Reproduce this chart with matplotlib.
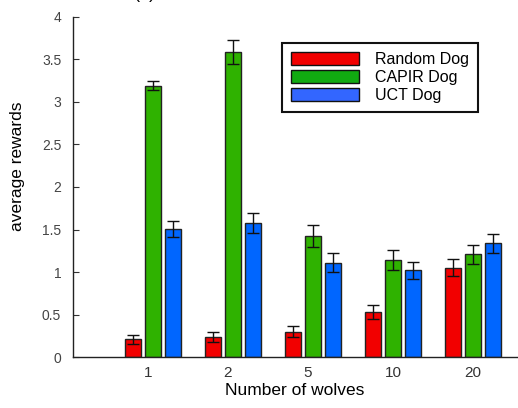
import numpy as np
import matplotlib
matplotlib.use("Agg")
import matplotlib.pyplot as plt
from matplotlib.transforms import ScaledTranslation

plt.rcParams['font.family'] = ['Liberation Sans', 'DejaVu Sans']

# Data
wolves = ["1", "2", "5", "10", "20"]
series = ["Random Dog", "CAPIR Dog", "UCT Dog"]
random_mean = [0.21, 0.24, 0.30, 0.53, 1.05]
random_err = [0.05, 0.06, 0.065, 0.08, 0.10]
capir_mean = [3.19, 3.59, 1.42, 1.14, 1.21]
capir_err = [0.055, 0.14, 0.13, 0.12, 0.11]
uct_mean = [1.51, 1.58, 1.11, 1.02, 1.34]
uct_err = [0.095, 0.12, 0.11, 0.10, 0.11]

colors = ["#F20000", "#2FB200", "#0066FF"]
legend_colors = ["#F20000", "#11AA11", "#3366FF"]

fig = plt.figure(figsize=(5.18, 4.08), dpi=100)
ax = fig.add_axes([73 / 518, 1 - 357.3 / 408, 480 / 518, 340.6 / 408])

x = np.arange(len(wolves))
offsets = [-0.25, 0.0, 0.25]
width = 0.2
means = [random_mean, capir_mean, uct_mean]
errs = [random_err, capir_err, uct_err]

for off, m, e, c in zip(offsets, means, errs, colors):
    ax.bar(x + off, m, width=width, color=c, edgecolor="#222222", linewidth=1.0,
           zorder=2)
    ax.errorbar(x + off, m, yerr=e, fmt="none", ecolor="#111111", elinewidth=1.0,
                capsize=4.3, capthick=1.0, zorder=3)

ax.set_xlim(-1, 5)
ax.set_ylim(0, 4)
ax.set_yticks(np.arange(0, 4.01, 0.5))
ax.set_yticklabels(["0", "0.5", "1", "1.5", "2", "2.5", "3", "3.5", "4"])
ax.set_xticks(x)
ax.set_xticklabels(wolves)

for s in ["top", "right"]:
    ax.spines[s].set_visible(False)
for s in ["left", "bottom"]:
    ax.spines[s].set_linewidth(1.0)
    ax.spines[s].set_color("#222222")

ax.tick_params(axis="y", direction="in", length=4, width=0.8, pad=8.5,
               labelsize=10, labelcolor="#444444", color="#333333")
ax.tick_params(axis="x", length=0, pad=6, labelsize=11, labelcolor="#333333")

# nudge the single-digit labels slightly left
for lab in ax.get_xticklabels()[:3]:
    lab.set_transform(lab.get_transform() + ScaledTranslation(-5 / 100, 0, fig.dpi_scale_trans))

ax.set_xlabel("Number of wolves", fontsize=12.5)
ax.xaxis.set_label_coords(222 / 480, -0.075)
ax.set_ylabel("average rewards", fontsize=12.5)
ax.yaxis.set_label_coords(-0.1, 0.56)

handles = [plt.Rectangle((0, 0), 1, 1, facecolor=c, edgecolor="#111111", linewidth=1.0)
           for c in legend_colors]
leg = ax.legend(handles, series, loc="upper left",
                bbox_to_anchor=(282 / 518, 1 - 43 / 408), bbox_transform=fig.transFigure,
                fontsize=11.5, handlelength=4.3, handleheight=0.85, handletextpad=1.0,
                labelspacing=0.2, borderpad=0.55, borderaxespad=0, fancybox=False,
                edgecolor="#111111", framealpha=1)
leg.get_frame().set_linewidth(1.5)

# panel tag, mostly above the figure edge
fig.text(145 / 518, 1 + 1.5 / 408, "(b)", ha="center", va="baseline", fontsize=13)

fig.savefig("out.png", dpi=100)
